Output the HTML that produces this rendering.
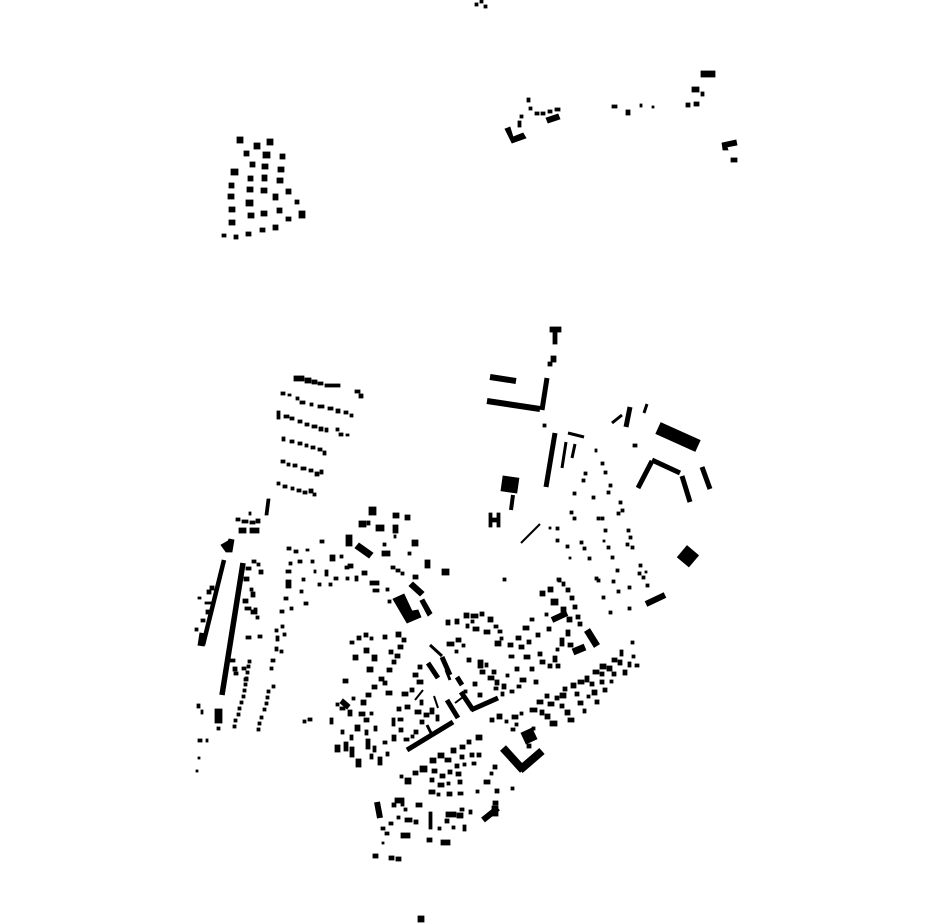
<!DOCTYPE html>
<html><head><meta charset="utf-8"><style>
html,body{margin:0;padding:0;background:#fff;}
svg{display:block}
g.f rect, g.f path{stroke:#000;stroke-width:0.8;stroke-linejoin:miter}
</style></head><body>
<svg width="930" height="924" viewBox="0 0 930 924" xmlns="http://www.w3.org/2000/svg">
<rect width="930" height="924" fill="#fff"/>
<g class="f" fill="#000">
<rect x="475" y="3" width="3" height="3"/><rect x="480" y="0" width="3" height="3"/><rect x="484" y="5" width="3" height="3"/>
<rect x="237" y="137" width="6" height="6"/><rect x="254" y="143" width="6" height="6"/><rect x="267" y="139" width="6" height="6"/>
<rect x="244" y="151" width="5" height="5"/><rect x="263" y="152" width="7" height="6"/><rect x="280" y="154" width="5" height="5"/>
<rect x="250" y="162" width="5" height="5"/><rect x="262" y="164" width="6" height="5"/><rect x="278" y="167" width="6" height="5"/>
<rect x="231" y="169" width="7" height="6"/><rect x="248" y="176" width="5" height="5"/><rect x="262" y="175" width="5" height="6"/><rect x="277" y="178" width="6" height="5"/>
<rect x="229" y="183" width="5" height="5"/><rect x="247" y="187" width="6" height="5"/><rect x="261" y="188" width="6" height="5"/><rect x="273" y="194" width="5" height="6"/><rect x="286" y="189" width="5" height="5"/>
<rect x="228" y="194" width="6" height="5"/><rect x="246" y="200" width="7" height="6"/><rect x="295" y="200" width="4" height="4"/>
<rect x="229" y="207" width="6" height="5"/><rect x="248" y="213" width="6" height="5"/><rect x="261" y="211" width="6" height="5"/><rect x="277" y="208" width="5" height="5"/><rect x="286" y="217" width="5" height="4"/><rect x="299" y="211" width="6" height="7"/>
<rect x="229" y="220" width="6" height="5"/><rect x="222" y="234" width="4" height="3"/><rect x="234" y="235" width="4" height="4"/><rect x="246" y="232" width="5" height="4"/><rect x="260" y="228" width="5" height="4"/><rect x="273" y="225" width="5" height="5"/>
<path d="M505 129 L510 127 L513 137 L523 133 L526 138 L512 143 Z"/>
<rect x="518" y="121" width="3" height="6"/><rect x="520" y="115" width="3" height="3"/>
<rect x="527" y="98" width="3" height="4"/><rect x="529" y="107" width="3" height="3"/><rect x="535" y="112" width="4" height="3"/><rect x="541" y="112" width="4" height="3"/><rect x="548" y="110" width="4" height="3"/><rect x="555" y="108" width="5" height="3"/>
<path d="M546 118 L558 114 L560 119 L548 123 Z"/>
<rect x="612" y="105" width="5" height="3"/><rect x="626" y="110" width="4" height="5"/><rect x="640" y="104" width="2" height="3"/><rect x="652" y="106" width="2" height="2"/>
<rect x="701" y="71" width="14" height="6"/><rect x="692" y="87" width="7" height="5"/><rect x="701" y="92" width="3" height="4"/><rect x="686" y="103" width="4" height="4"/><rect x="694" y="102" width="5" height="4"/>
<path d="M722 143 L736 140 L737 145 L727 147 L728 150 L723 150 Z"/><rect x="731" y="158" width="6" height="4"/>
<rect x="294" y="376" width="10" height="5"/><rect x="305" y="378" width="6" height="5"/><rect x="312" y="380" width="5" height="4"/><rect x="318" y="382" width="5" height="3"/><rect x="325" y="384" width="15" height="3"/>
<rect x="355" y="390" width="5" height="3"/><rect x="359" y="394" width="4" height="4"/>
<rect x="281" y="392" width="4" height="3"/><rect x="288" y="394" width="3" height="2"/><rect x="296" y="397" width="3" height="3"/><rect x="300" y="401" width="5" height="3"/><rect x="310" y="403" width="3" height="3"/><rect x="318" y="405" width="6" height="3"/><rect x="328" y="407" width="5" height="3"/><rect x="336" y="409" width="4" height="4"/><rect x="344" y="411" width="4" height="3"/><rect x="350" y="414" width="3" height="3"/>
<rect x="277" y="411" width="3" height="8"/><rect x="284" y="415" width="5" height="3"/><rect x="290" y="417" width="4" height="3"/><rect x="298" y="420" width="4" height="3"/><rect x="305" y="423" width="4" height="3"/><rect x="312" y="425" width="5" height="3"/><rect x="319" y="427" width="4" height="4"/><rect x="325" y="428" width="3" height="4"/><rect x="336" y="428" width="3" height="3"/><rect x="339" y="433" width="4" height="3"/><rect x="346" y="434" width="3" height="2"/>
<rect x="282" y="437" width="3" height="4"/><rect x="290" y="440" width="4" height="3"/><rect x="298" y="442" width="4" height="3"/><rect x="305" y="444" width="3" height="3"/><rect x="311" y="446" width="4" height="3"/><rect x="318" y="448" width="4" height="3"/><rect x="323" y="451" width="3" height="4"/>
<rect x="281" y="460" width="4" height="3"/><rect x="287" y="463" width="3" height="3"/><rect x="293" y="464" width="4" height="3"/><rect x="301" y="467" width="5" height="3"/><rect x="309" y="469" width="4" height="3"/><rect x="315" y="472" width="4" height="4"/><rect x="320" y="470" width="3" height="4"/>
<rect x="277" y="482" width="3" height="3"/><rect x="283" y="485" width="4" height="3"/><rect x="291" y="487" width="3" height="3"/><rect x="297" y="489" width="4" height="3"/><rect x="303" y="491" width="4" height="3"/><rect x="309" y="489" width="4" height="4"/><rect x="313" y="493" width="3" height="3"/>
<path d="M267 499 L270 499 L268 515 L265 515 Z"/>
<rect x="236" y="518" width="4" height="3"/><rect x="242" y="520" width="6" height="3"/><rect x="250" y="521" width="5" height="3"/><rect x="256" y="519" width="4" height="4"/><rect x="239" y="528" width="7" height="5"/><rect x="250" y="528" width="9" height="5"/><rect x="249" y="512" width="2" height="3"/>
<path d="M221 545 L228 541 L229 539 L234 540 L232 552 L226 552 Z"/>
</g>
<g stroke="#000" fill="none" stroke-linecap="butt">
<line x1="224" y1="560" x2="203" y2="645" stroke-width="4.5"/>
<line x1="203" y1="633" x2="201" y2="646" stroke-width="7"/>
<line x1="243" y1="563" x2="222" y2="695" stroke-width="5.5"/>
</g>
<g class="f" fill="#000">
<rect x="215" y="709" width="7" height="14"/><rect x="197" y="704" width="3" height="4"/><rect x="201" y="710" width="2" height="4"/><rect x="217" y="727" width="3" height="3"/>
<rect x="198" y="739" width="4" height="3"/><rect x="206" y="739" width="2" height="3"/><rect x="198" y="757" width="2" height="2"/><rect x="196" y="770" width="2" height="2"/>
<rect x="207" y="590" width="4" height="4"/><rect x="198" y="597" width="3" height="2"/><rect x="205" y="602" width="10" height="2"/><rect x="206" y="610" width="3" height="4"/><rect x="201" y="619" width="4" height="3"/><rect x="195" y="628" width="3" height="3"/><rect x="210" y="586" width="4" height="4"/>
<rect x="246" y="567" width="5" height="3"/><rect x="252" y="560" width="4" height="3"/><rect x="257" y="563" width="3" height="3"/><rect x="259" y="570" width="4" height="4"/><rect x="244" y="577" width="5" height="4"/><rect x="251" y="592" width="4" height="5"/><rect x="243" y="599" width="5" height="4"/><rect x="245" y="607" width="6" height="3"/><rect x="251" y="610" width="6" height="4"/><rect x="250" y="588" width="3" height="3"/><rect x="254" y="608" width="3" height="3"/>
<rect x="256" y="616" width="3" height="3"/><rect x="258" y="635" width="4" height="3"/><rect x="246" y="636" width="5" height="3"/><rect x="230" y="659" width="5" height="3"/><rect x="233" y="667" width="4" height="4"/><rect x="234" y="672" width="4" height="3"/><rect x="242" y="667" width="4" height="3"/><rect x="244" y="678" width="4" height="3"/>
<rect x="248" y="660" width="3" height="3"/><rect x="247" y="665" width="3" height="3"/><rect x="246" y="671" width="3" height="3"/><rect x="245" y="677" width="3" height="3"/><rect x="244" y="683" width="3" height="3"/><rect x="243" y="689" width="3" height="3"/><rect x="242" y="695" width="3" height="3"/><rect x="240" y="701" width="3" height="3"/><rect x="238" y="707" width="3" height="3"/><rect x="237" y="713" width="3" height="3"/><rect x="234" y="719" width="3" height="3"/><rect x="233" y="725" width="3" height="3"/>
<rect x="287" y="547" width="4" height="3"/><rect x="289" y="562" width="3" height="3"/><rect x="286" y="570" width="5" height="3"/><rect x="286" y="580" width="5" height="8"/><rect x="284" y="597" width="4" height="3"/><rect x="280" y="610" width="4" height="3"/><rect x="290" y="607" width="3" height="3"/><rect x="281" y="625" width="3" height="3"/><rect x="275" y="629" width="3" height="3"/><rect x="276" y="636" width="3" height="5"/><rect x="283" y="633" width="3" height="3"/><rect x="275" y="647" width="3" height="4"/><rect x="280" y="650" width="3" height="3"/><rect x="271" y="659" width="4" height="3"/><rect x="270" y="667" width="3" height="3"/><rect x="272" y="685" width="3" height="3"/><rect x="267" y="690" width="3" height="3"/><rect x="266" y="696" width="3" height="3"/><rect x="265" y="702" width="3" height="3"/><rect x="263" y="708" width="3" height="3"/><rect x="260" y="716" width="3" height="3"/><rect x="258" y="722" width="3" height="3"/><rect x="257" y="728" width="3" height="3"/>
<rect x="294" y="550" width="4" height="3"/><rect x="298" y="560" width="4" height="3"/><rect x="302" y="578" width="3" height="3"/><rect x="300" y="590" width="3" height="3"/><rect x="304" y="602" width="4" height="3"/><rect x="308" y="718" width="4" height="3"/><rect x="303" y="720" width="3" height="3"/>
<rect x="311" y="560" width="3" height="3"/><rect x="314" y="570" width="2" height="3"/><rect x="325" y="570" width="3" height="6"/><rect x="330" y="555" width="5" height="6"/><rect x="340" y="555" width="3" height="3"/><rect x="329" y="583" width="3" height="3"/><rect x="334" y="577" width="4" height="3"/><rect x="345" y="566" width="4" height="3"/><rect x="346" y="577" width="3" height="3"/><rect x="318" y="583" width="3" height="3"/>
<rect x="320" y="540" width="4" height="3"/><rect x="306" y="549" width="3" height="2"/>
<rect x="369" y="507" width="7" height="8"/><rect x="393" y="513" width="6" height="5"/><rect x="405" y="515" width="5" height="5"/>
<rect x="359" y="521" width="7" height="6"/><rect x="367" y="521" width="3" height="4"/><rect x="376" y="525" width="8" height="6"/><rect x="393" y="525" width="5" height="8"/><rect x="394" y="535" width="2" height="3"/>
<rect x="346" y="535" width="6" height="11"/><rect x="383" y="543" width="3" height="3"/><rect x="382" y="551" width="8" height="5"/><rect x="412" y="540" width="6" height="6"/><rect x="408" y="552" width="3" height="3"/>
<path d="M355 548 L359 543 L373 553 L369 558 Z"/>
<rect x="425" y="560" width="5" height="8"/><rect x="442" y="569" width="7" height="6"/><rect x="348" y="564" width="5" height="4"/><rect x="362" y="571" width="5" height="4"/><rect x="355" y="576" width="3" height="5"/><rect x="370" y="581" width="9" height="4"/><rect x="373" y="589" width="6" height="3"/>
<rect x="391" y="566" width="4" height="3"/><rect x="396" y="569" width="4" height="3"/><rect x="401" y="572" width="3" height="3"/><rect x="413" y="575" width="5" height="4"/>
<path d="M409 586 L413 582 L424 592 L420 596 Z"/>
<path d="M393 599 L404 594 L412 611 L418 610 L421 617 L407 623 Z"/>
<path d="M420 601 L424 599 L432 613 L428 616 Z"/>
<rect x="388" y="600" width="3" height="3"/><rect x="386" y="588" width="3" height="3"/>
<rect x="550" y="327" width="11" height="5"/><rect x="553" y="330" width="4" height="14"/>
<rect x="551" y="356" width="5" height="6"/><rect x="548" y="362" width="4" height="4"/>
</g>
<g stroke="#000" fill="none" stroke-linecap="butt">
<line x1="490" y1="377" x2="516" y2="381" stroke-width="6"/>
<line x1="487" y1="401" x2="540" y2="409" stroke-width="6"/>
<line x1="547" y1="378" x2="542" y2="410" stroke-width="5"/>
<line x1="555" y1="433" x2="546" y2="487" stroke-width="5"/>
<line x1="568" y1="433" x2="584" y2="437" stroke-width="3"/>
<line x1="566" y1="442" x2="562" y2="468" stroke-width="3"/>
<line x1="575" y1="444" x2="572" y2="458" stroke-width="3"/>
<line x1="513" y1="495" x2="511" y2="510" stroke-width="4"/>
<line x1="521" y1="543" x2="540" y2="524" stroke-width="2"/>
<line x1="612" y1="423" x2="622" y2="415" stroke-width="3"/>
<line x1="630" y1="407" x2="626" y2="427" stroke-width="5"/>
<line x1="647" y1="404" x2="644" y2="413" stroke-width="3"/>
<line x1="658" y1="428" x2="698" y2="446" stroke-width="13"/>
<line x1="652" y1="460" x2="680" y2="473" stroke-width="5"/>
<line x1="652" y1="461" x2="638" y2="488" stroke-width="5"/>
<line x1="682" y1="476" x2="690" y2="502" stroke-width="5"/>
<line x1="702" y1="467" x2="710" y2="489" stroke-width="5"/>
<line x1="646" y1="604" x2="665" y2="595" stroke-width="6"/>
</g>
<g class="f" fill="#000">
<rect x="502" y="477" width="16" height="15" transform="rotate(8 510 484)"/>
<path d="M489 513 h3 v5 h5 v-5 h3 v14 h-3 v-5 h-5 v5 h-3 Z"/>
<rect x="543" y="424" width="3" height="3"/><rect x="633" y="444" width="4" height="3"/>
<rect x="680" y="549" width="15" height="15" transform="rotate(40 688 557)"/>
<rect x="595" y="449" width="2" height="3"/><rect x="601" y="462" width="3" height="3"/><rect x="604" y="471" width="3" height="3"/><rect x="609" y="484" width="3" height="3"/><rect x="607" y="491" width="3" height="3"/><rect x="619" y="501" width="3" height="3"/><rect x="621" y="509" width="3" height="3"/><rect x="617" y="512" width="3" height="3"/><rect x="627" y="529" width="3" height="3"/><rect x="629" y="536" width="3" height="3"/><rect x="631" y="546" width="3" height="3"/><rect x="626" y="543" width="3" height="3"/><rect x="639" y="564" width="3" height="3"/><rect x="642" y="576" width="3" height="3"/><rect x="646" y="584" width="3" height="3"/><rect x="638" y="572" width="3" height="3"/><rect x="645" y="571" width="2" height="2"/>
<rect x="592" y="496" width="3" height="3"/><rect x="601" y="517" width="3" height="3"/><rect x="597" y="517" width="3" height="3"/><rect x="604" y="529" width="3" height="3"/><rect x="607" y="546" width="3" height="3"/><rect x="611" y="556" width="3" height="3"/><rect x="616" y="569" width="3" height="3"/><rect x="597" y="579" width="3" height="3"/><rect x="602" y="596" width="3" height="3"/><rect x="609" y="611" width="3" height="3"/><rect x="603" y="540" width="2" height="2"/>
<rect x="584" y="472" width="3" height="3"/><rect x="582" y="479" width="3" height="3"/><rect x="573" y="492" width="3" height="3"/><rect x="570" y="511" width="3" height="3"/><rect x="573" y="517" width="3" height="3"/><rect x="556" y="527" width="3" height="3"/><rect x="549" y="527" width="2" height="2"/><rect x="556" y="539" width="3" height="3"/><rect x="580" y="541" width="3" height="3"/><rect x="583" y="547" width="3" height="3"/><rect x="588" y="557" width="3" height="3"/><rect x="569" y="557" width="2" height="2"/><rect x="595" y="577" width="3" height="3"/><rect x="628" y="586" width="3" height="3"/><rect x="628" y="607" width="3" height="3"/>
<rect x="612" y="580" width="3" height="3"/><rect x="617" y="590" width="3" height="3"/><rect x="566" y="545" width="3" height="3"/>
<rect x="503" y="578" width="3" height="3"/><rect x="558" y="579" width="3" height="3"/>
<rect x="540" y="591" width="5" height="5"/><rect x="548" y="587" width="5" height="5"/><rect x="557" y="578" width="4" height="3"/><rect x="562" y="582" width="3" height="4"/><rect x="566" y="588" width="4" height="4"/><rect x="570" y="596" width="4" height="4"/><rect x="573" y="605" width="4" height="4"/><rect x="576" y="615" width="4" height="4"/><rect x="578" y="622" width="4" height="4"/>
<rect x="551" y="599" width="7" height="6"/><rect x="561" y="607" width="5" height="5"/><rect x="567" y="617" width="5" height="5"/>
<rect x="545" y="613" width="3" height="3"/><rect x="530" y="618" width="4" height="3"/><rect x="523" y="626" width="6" height="4"/><rect x="516" y="636" width="5" height="4"/><rect x="508" y="643" width="5" height="4"/><rect x="500" y="637" width="3" height="3"/>
</g>
<g stroke="#000" fill="none" stroke-linecap="butt">
<line x1="552" y1="620" x2="567" y2="613" stroke-width="6"/>
<line x1="587" y1="630" x2="597" y2="646" stroke-width="7"/>
<line x1="573" y1="652" x2="585" y2="647" stroke-width="7"/>
<line x1="407" y1="750" x2="453" y2="722" stroke-width="5"/>
<line x1="458" y1="718" x2="447" y2="700" stroke-width="5"/>
<line x1="461" y1="692" x2="473" y2="710" stroke-width="5"/>
<line x1="471" y1="710" x2="498" y2="698" stroke-width="5"/>
<line x1="428" y1="663" x2="438" y2="678" stroke-width="5"/>
<line x1="442" y1="657" x2="450" y2="675" stroke-width="5"/>
<line x1="457" y1="677" x2="462" y2="685" stroke-width="5"/>
<line x1="503" y1="748" x2="523" y2="770" stroke-width="8"/>
<line x1="520" y1="770" x2="542" y2="751" stroke-width="8"/>
<line x1="377" y1="802" x2="380" y2="818" stroke-width="6"/>
<line x1="483" y1="820" x2="498" y2="808" stroke-width="6"/>
<line x1="430" y1="645" x2="442" y2="656" stroke-width="3"/>
<line x1="415" y1="700" x2="423" y2="690" stroke-width="2"/>
<line x1="434" y1="696" x2="438" y2="708" stroke-width="2"/>
<line x1="455" y1="703" x2="463" y2="697" stroke-width="2"/>
<line x1="446" y1="670" x2="450" y2="680" stroke-width="3"/>
<line x1="427" y1="725" x2="432" y2="735" stroke-width="3"/>
</g>
<g class="f" fill="#000">
<rect x="523" y="730" width="12" height="12" transform="rotate(-25 529 736)"/>
<rect x="492" y="806" width="6" height="10"/>
<rect x="446" y="620" width="4" height="5"/><rect x="455" y="619" width="4" height="5"/><rect x="464" y="613" width="5" height="5"/><rect x="471" y="614" width="7" height="4"/><rect x="466" y="624" width="3" height="4"/><rect x="471" y="620" width="3" height="3"/><rect x="488" y="617" width="5" height="5"/><rect x="484" y="630" width="6" height="4"/><rect x="473" y="627" width="6" height="4"/><rect x="494" y="625" width="4" height="3"/><rect x="498" y="630" width="4" height="3"/><rect x="480" y="612" width="4" height="4"/>
<rect x="350" y="641" width="4" height="3"/><rect x="357" y="636" width="4" height="4"/><rect x="364" y="633" width="4" height="4"/><rect x="370" y="637" width="3" height="3"/><rect x="383" y="635" width="4" height="4"/><rect x="396" y="632" width="5" height="5"/><rect x="402" y="638" width="4" height="4"/><rect x="398" y="645" width="5" height="4"/><rect x="395" y="654" width="5" height="4"/>
<rect x="364" y="648" width="5" height="5"/><rect x="353" y="655" width="5" height="5"/><rect x="372" y="655" width="5" height="6"/><rect x="389" y="650" width="4" height="4"/><rect x="392" y="660" width="4" height="4"/><rect x="387" y="668" width="5" height="4"/>
<rect x="367" y="667" width="6" height="5"/><rect x="343" y="679" width="5" height="4"/><rect x="379" y="677" width="5" height="4"/><rect x="372" y="685" width="5" height="4"/><rect x="383" y="681" width="4" height="4"/><rect x="386" y="691" width="6" height="4"/><rect x="366" y="693" width="5" height="4"/><rect x="361" y="700" width="5" height="5"/>
<rect x="336" y="703" width="3" height="3"/><rect x="340" y="707" width="5" height="3"/><rect x="352" y="697" width="3" height="3"/><rect x="348" y="710" width="4" height="6"/><rect x="359" y="712" width="6" height="4"/><rect x="364" y="718" width="5" height="4"/><rect x="370" y="712" width="3" height="3"/>
<rect x="330" y="718" width="3" height="6"/><rect x="355" y="725" width="5" height="6"/><rect x="341" y="730" width="3" height="4"/><rect x="350" y="735" width="3" height="5"/><rect x="365" y="730" width="3" height="5"/><rect x="374" y="726" width="3" height="5"/>
<rect x="335" y="745" width="5" height="7"/><rect x="344" y="742" width="4" height="9"/><rect x="350" y="747" width="4" height="10"/><rect x="356" y="759" width="5" height="8"/><rect x="366" y="739" width="4" height="10"/><rect x="373" y="746" width="3" height="6"/><rect x="370" y="754" width="3" height="5"/><rect x="378" y="757" width="4" height="8"/><rect x="386" y="752" width="3" height="4"/><rect x="383" y="741" width="4" height="3"/>
<rect x="392" y="735" width="4" height="6"/><rect x="392" y="718" width="3" height="8"/><rect x="397" y="707" width="4" height="4"/><rect x="405" y="705" width="5" height="4"/><rect x="398" y="718" width="5" height="3"/><rect x="399" y="728" width="4" height="4"/><rect x="404" y="738" width="5" height="3"/><rect x="411" y="735" width="3" height="3"/><rect x="414" y="730" width="4" height="4"/>
<rect x="402" y="692" width="6" height="4"/><rect x="410" y="688" width="4" height="4"/><rect x="417" y="680" width="6" height="4"/><rect x="413" y="673" width="5" height="4"/><rect x="418" y="665" width="4" height="4"/><rect x="420" y="700" width="3" height="5"/><rect x="415" y="710" width="6" height="4"/><rect x="424" y="713" width="5" height="4"/><rect x="420" y="720" width="4" height="4"/><rect x="430" y="708" width="4" height="6"/><rect x="436" y="715" width="3" height="6"/>
<rect x="447" y="642" width="7" height="4"/><rect x="456" y="638" width="5" height="4"/><rect x="462" y="644" width="3" height="3"/><rect x="455" y="650" width="3" height="3"/><rect x="478" y="660" width="5" height="8"/><rect x="467" y="658" width="4" height="4"/><rect x="485" y="663" width="3" height="4"/><rect x="480" y="670" width="5" height="4"/><rect x="492" y="670" width="4" height="4"/><rect x="488" y="676" width="6" height="4"/><rect x="495" y="680" width="4" height="5"/><rect x="502" y="684" width="4" height="5"/><rect x="494" y="687" width="4" height="3"/><rect x="501" y="692" width="3" height="4"/><rect x="473" y="682" width="4" height="4"/><rect x="478" y="693" width="4" height="4"/><rect x="464" y="690" width="3" height="3"/>
<rect x="495" y="641" width="6" height="5"/><rect x="509" y="655" width="5" height="3"/><rect x="519" y="645" width="5" height="4"/><rect x="527" y="640" width="4" height="4"/><rect x="536" y="633" width="4" height="4"/><rect x="547" y="627" width="4" height="4"/><rect x="524" y="655" width="6" height="4"/><rect x="538" y="652" width="4" height="4"/><rect x="553" y="656" width="4" height="6"/><rect x="540" y="660" width="5" height="4"/><rect x="548" y="664" width="4" height="4"/><rect x="556" y="664" width="4" height="4"/><rect x="530" y="667" width="4" height="4"/><rect x="515" y="667" width="4" height="4"/><rect x="520" y="678" width="6" height="4"/><rect x="534" y="680" width="4" height="4"/><rect x="506" y="674" width="3" height="3"/><rect x="517" y="685" width="4" height="3"/><rect x="510" y="690" width="4" height="3"/>
<rect x="560" y="638" width="4" height="8"/><rect x="566" y="630" width="4" height="6"/><rect x="556" y="648" width="3" height="3"/><rect x="568" y="643" width="5" height="4"/>
<rect x="490" y="718" width="4" height="4"/><rect x="497" y="714" width="5" height="5"/><rect x="505" y="720" width="3" height="3"/><rect x="512" y="715" width="6" height="4"/><rect x="515" y="723" width="3" height="3"/><rect x="520" y="712" width="3" height="3"/><rect x="511" y="728" width="4" height="3"/>
<rect x="530" y="708" width="7" height="4"/><rect x="540" y="710" width="4" height="5"/><rect x="537" y="700" width="6" height="4"/><rect x="548" y="702" width="6" height="4"/><rect x="545" y="714" width="5" height="5"/><rect x="550" y="721" width="7" height="5"/><rect x="545" y="694" width="4" height="4"/><rect x="555" y="696" width="4" height="4"/><rect x="560" y="693" width="6" height="5"/><rect x="560" y="704" width="4" height="4"/><rect x="565" y="710" width="5" height="5"/><rect x="568" y="718" width="6" height="4"/><rect x="563" y="687" width="4" height="4"/><rect x="571" y="683" width="5" height="5"/><rect x="575" y="692" width="4" height="4"/><rect x="578" y="701" width="5" height="4"/><rect x="583" y="709" width="3" height="4"/>
<rect x="578" y="680" width="6" height="4"/><rect x="585" y="676" width="4" height="6"/><rect x="590" y="682" width="4" height="4"/><rect x="592" y="690" width="5" height="5"/><rect x="587" y="695" width="3" height="3"/><rect x="595" y="700" width="4" height="4"/><rect x="593" y="670" width="6" height="4"/><rect x="600" y="672" width="4" height="4"/><rect x="600" y="680" width="4" height="4"/><rect x="603" y="688" width="4" height="4"/><rect x="600" y="664" width="6" height="5"/><rect x="607" y="666" width="5" height="5"/><rect x="612" y="658" width="5" height="4"/><rect x="612" y="672" width="4" height="4"/><rect x="618" y="660" width="4" height="5"/><rect x="620" y="650" width="3" height="6"/><rect x="623" y="670" width="4" height="5"/><rect x="628" y="662" width="3" height="5"/><rect x="632" y="655" width="3" height="3"/><rect x="635" y="664" width="4" height="3"/><rect x="631" y="641" width="3" height="3"/><rect x="610" y="680" width="3" height="3"/>
<rect x="532" y="727" width="3" height="3"/><rect x="527" y="744" width="4" height="4"/>
<rect x="476" y="735" width="6" height="5"/><rect x="467" y="740" width="4" height="4"/><rect x="460" y="745" width="5" height="4"/><rect x="451" y="748" width="5" height="5"/><rect x="438" y="753" width="6" height="5"/><rect x="445" y="758" width="6" height="4"/><rect x="430" y="758" width="6" height="5"/><rect x="460" y="755" width="4" height="4"/><rect x="470" y="753" width="4" height="4"/><rect x="477" y="753" width="4" height="4"/><rect x="455" y="764" width="4" height="4"/><rect x="463" y="763" width="3" height="3"/><rect x="472" y="762" width="4" height="3"/>
<rect x="420" y="766" width="7" height="6"/><rect x="413" y="771" width="5" height="4"/><rect x="432" y="769" width="5" height="4"/><rect x="440" y="774" width="5" height="4"/><rect x="448" y="770" width="4" height="4"/><rect x="456" y="772" width="5" height="4"/><rect x="430" y="778" width="4" height="4"/><rect x="438" y="783" width="6" height="4"/><rect x="447" y="782" width="3" height="3"/><rect x="458" y="780" width="4" height="4"/><rect x="484" y="780" width="6" height="4"/><rect x="493" y="765" width="4" height="4"/><rect x="495" y="789" width="4" height="4"/><rect x="490" y="772" width="3" height="3"/>
<rect x="429" y="790" width="6" height="4"/><rect x="437" y="793" width="3" height="3"/><rect x="447" y="792" width="5" height="4"/><rect x="458" y="792" width="5" height="3"/><rect x="476" y="790" width="3" height="3"/><rect x="493" y="801" width="5" height="4"/><rect x="511" y="787" width="3" height="3"/>
<rect x="405" y="778" width="6" height="6"/><rect x="400" y="775" width="3" height="3"/>
<rect x="395" y="798" width="9" height="5"/><rect x="392" y="803" width="4" height="4"/><rect x="401" y="803" width="3" height="3"/><rect x="404" y="808" width="3" height="3"/><rect x="416" y="803" width="6" height="4"/><rect x="405" y="818" width="7" height="4"/><rect x="397" y="816" width="3" height="3"/><rect x="389" y="822" width="4" height="3"/><rect x="414" y="820" width="4" height="4"/><rect x="429" y="812" width="3" height="17"/><rect x="446" y="812" width="10" height="5"/><rect x="445" y="819" width="4" height="4"/><rect x="457" y="813" width="6" height="5"/><rect x="438" y="827" width="3" height="3"/><rect x="452" y="826" width="3" height="3"/><rect x="463" y="825" width="3" height="6"/><rect x="460" y="808" width="4" height="3"/><rect x="469" y="810" width="3" height="4"/>
<rect x="381" y="827" width="4" height="3"/><rect x="385" y="832" width="4" height="3"/><rect x="401" y="833" width="9" height="5"/><rect x="427" y="838" width="5" height="4"/><rect x="441" y="840" width="9" height="5"/><rect x="382" y="842" width="2" height="2"/>
<rect x="373" y="854" width="5" height="4"/><rect x="389" y="856" width="5" height="4"/><rect x="396" y="857" width="5" height="4"/>
<rect x="418" y="916" width="6" height="6"/>
<path d="M340 703 L343 699 L350 705 L347 709 Z"/>
</g>
</svg>
</body></html>
